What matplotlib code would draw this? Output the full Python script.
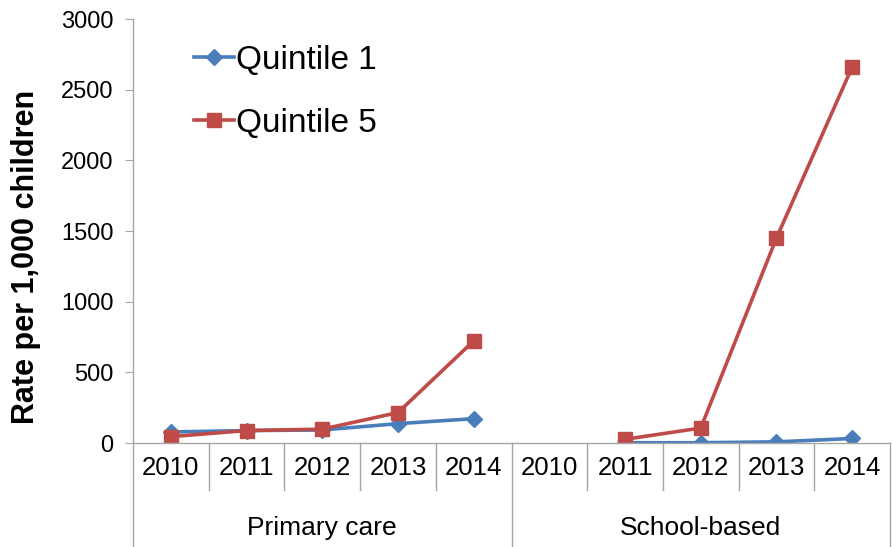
import numpy as np
import matplotlib
matplotlib.use("Agg")
import matplotlib.pyplot as plt
import matplotlib.transforms as mtransforms

plt.rcParams['font.family'] = ['Liberation Sans', 'DejaVu Sans']

# data
groups = ["Primary care", "School-based"]
years = ["2010", "2011", "2012", "2013", "2014"]
quintile1 = [78, 88, 92, 137, 172, np.nan, 2, 2, 8, 32]
quintile5 = [45, 88, 98, 215, 722, np.nan, 26, 106, 1450, 2660]

blue = "#4A7EBB"
red = "#BE4B48"
grey = "#A6A6A6"

fig = plt.figure(figsize=(8.92, 5.47), dpi=100)
ax = fig.add_axes([133 / 892, 104 / 547, 757 / 892, 424 / 547])

x = np.arange(len(quintile1))
ax.plot(x, quintile1, color=blue, lw=2.6, marker="D", ms=8, label="Quintile 1")
ax.plot(x, quintile5, color=red, lw=2.6, marker="s", ms=9.5, label="Quintile 5")

ax.set_xlim(-0.5, len(x) - 0.5)
ax.set_ylim(0, 3000)
ax.set_yticks(np.arange(0, 3001, 500))
ax.tick_params(axis="y", labelsize=17, length=6, color=grey, pad=8, direction="out")
ax.set_xticks([])
for s in ["top", "right"]:
    ax.spines[s].set_visible(False)
for s in ["left", "bottom"]:
    ax.spines[s].set_color(grey)
    ax.spines[s].set_linewidth(1.0)

ax.set_ylabel("Rate per 1,000 children", fontsize=22, fontweight="bold")
ax.yaxis.set_label_coords(-0.122, 0.44)

# two-level category axis drawn by hand
trans = mtransforms.blended_transform_factory(ax.transData, ax.transAxes)
px = 1 / 424  # one pixel in axes-height units
for b in np.arange(-0.5, len(x), 1.0):
    if b in (-0.5, 4.5, 9.5):
        ax.plot([b, b], [0, -104 * px], transform=trans, color=grey, lw=1.0, clip_on=False)
    else:
        ax.plot([b, b], [0, -47 * px], transform=trans, color=grey, lw=1.0, clip_on=False)

for i in range(len(x)):
    ax.text(i, -25 * px, years[i % 5], transform=trans, ha="center", va="center", fontsize=18.5)
for g, name in enumerate(groups):
    ax.text(g * 5 + 2, -85 * px, name, transform=trans, ha="center", va="center", fontsize=19)

ax.legend(loc="upper left", bbox_to_anchor=(194 / 892, 1 - 45 / 547), bbox_transform=fig.transFigure,
          frameon=False, fontsize=24, handlelength=1.2, handletextpad=0.05, labelspacing=0.95,
          borderpad=0, borderaxespad=0)

fig.savefig("out.png", dpi=100)
